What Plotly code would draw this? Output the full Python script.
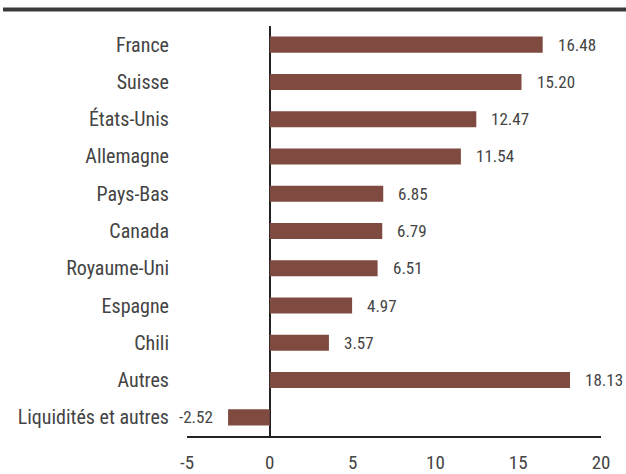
import plotly.graph_objects as go

categories = ["France", "Suisse", "États-Unis", "Allemagne", "Pays-Bas", "Canada",
              "Royaume-Uni", "Espagne", "Chili", "Autres", "Liquidités et autres"]
values = [16.48, 15.20, 12.47, 11.54, 6.85, 6.79, 6.51, 4.97, 3.57, 18.13, -2.52]
x_ticks = [-5, 0, 5, 10, 15, 20]

FONT = "Roboto Condensed, DejaVu Sans Condensed, sans-serif"
BAR = "#7f4a40"
TEXT = "#444444"

W, H = 626, 474
ML, MR, MT, MB = 187, 25, 26, 38

fig = go.Figure(go.Bar(
    x=values, y=categories, orientation="h",
    marker=dict(color=BAR, line=dict(width=0)),
    width=0.43, hoverinfo="skip",
))

for c, v in zip(categories, values):
    fig.add_annotation(
        x=v, y=c, text=f"{v:.2f}", showarrow=False,
        xanchor="left" if v >= 0 else "right",
        xshift=13 if v >= 0 else -13,
        font=dict(family=FONT, size=17, color=TEXT),
    )

# heavy rule across the top of the figure
pw = W - ML - MR
ph = H - MT - MB
fig.add_shape(type="line", xref="paper", yref="paper",
              x0=(3 - ML) / pw, x1=(W - ML) / pw,
              y0=1 + (MT - 9.5) / ph, y1=1 + (MT - 9.5) / ph,
              line=dict(color="#3a3a3a", width=4))

fig.update_layout(
    width=W, height=H,
    margin=dict(l=ML, r=MR, t=MT, b=MB, pad=0, autoexpand=False),
    plot_bgcolor="white", paper_bgcolor="white",
    showlegend=False,
    font=dict(family=FONT, color=TEXT),
    xaxis=dict(
        range=[-5, 20], tickvals=x_ticks, ticktext=[str(t) for t in x_ticks],
        showgrid=False, zeroline=True, zerolinecolor="#222", zerolinewidth=1.5,
        showline=True, linecolor="#222", linewidth=1.5,
        ticks="", ticklabelstandoff=8, automargin=False,
        tickfont=dict(family=FONT, size=19, color=TEXT),
    ),
    yaxis=dict(
        autorange="reversed", showgrid=False, zeroline=False, showline=False,
        ticks="", ticklabelstandoff=17, automargin=False,
        tickfont=dict(family=FONT, size=20, color=TEXT),
    ),
)

fig.write_html("out.html")
